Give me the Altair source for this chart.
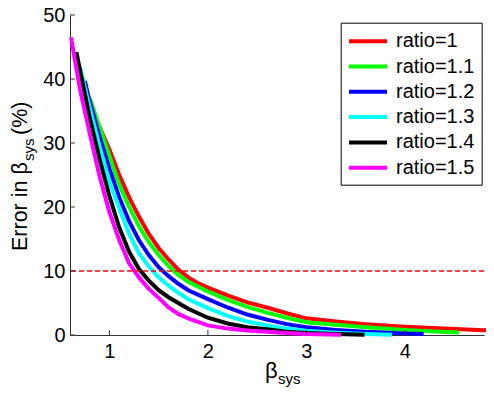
import altair as alt
import pandas as pd

FONT = "Liberation Sans"

ratios = ["ratio=1", "ratio=1.1", "ratio=1.2", "ratio=1.3", "ratio=1.4", "ratio=1.5"]
colors = ["#ff0000", "#00ff00", "#0000ff", "#00ffff", "#000000", "#ff00ff"]

beta_r10 = [0.9, 1.0, 1.1, 1.2, 1.3, 1.4, 1.5, 1.6, 1.7, 1.8, 1.9, 2.0, 2.2, 2.4, 2.6, 2.8, 3.0, 3.3, 3.6, 4.0, 4.4, 4.8, 5.0]
err_r10 = [32.5, 29.0, 25.0, 21.5, 18.5, 15.8, 13.6, 11.8, 10.2, 9.0, 8.1, 7.4, 6.2, 5.1, 4.3, 3.4, 2.6, 2.1, 1.7, 1.3, 1.0, 0.75, 0.65]

beta_r11 = [0.8, 0.9, 1.0, 1.1, 1.2, 1.3, 1.4, 1.5, 1.6, 1.7, 1.8, 2.0, 2.2, 2.4, 2.6, 2.8, 3.0, 3.3, 3.6, 4.0, 4.3, 4.55]
err_r11 = [37.0, 32.5, 28.0, 23.5, 20.0, 17.0, 14.5, 12.5, 10.8, 9.4, 8.3, 6.8, 5.5, 4.4, 3.5, 2.7, 2.0, 1.6, 1.2, 0.8, 0.55, 0.4]

beta_r12 = [0.75, 0.8, 0.9, 1.0, 1.1, 1.2, 1.3, 1.4, 1.5, 1.6, 1.7, 1.8, 2.0, 2.2, 2.4, 2.6, 2.8, 3.0, 3.3, 3.6, 4.0, 4.19]
err_r12 = [39.7, 36.5, 31.0, 26.0, 21.5, 17.8, 14.8, 12.5, 10.6, 9.2, 8.0, 7.0, 5.6, 4.3, 3.2, 2.4, 1.7, 1.2, 0.8, 0.5, 0.25, 0.15]

beta_r13 = [0.7, 0.8, 0.9, 1.0, 1.1, 1.2, 1.3, 1.4, 1.5, 1.6, 1.7, 1.8, 2.0, 2.2, 2.4, 2.6, 2.8, 3.0, 3.3, 3.6, 3.87]
err_r13 = [42.0, 35.5, 29.5, 24.0, 19.8, 15.8, 12.8, 10.7, 9.0, 7.7, 6.6, 5.6, 4.2, 3.0, 2.1, 1.5, 1.0, 0.65, 0.35, 0.15, 0.05]

beta_r14 = [0.665, 0.7, 0.8, 0.9, 1.0, 1.1, 1.2, 1.3, 1.4, 1.5, 1.6, 1.7, 1.8, 2.0, 2.2, 2.4, 2.6, 2.8, 3.0, 3.3, 3.59]
err_r14 = [44.2, 41.5, 34.0, 27.5, 21.7, 16.8, 13.0, 10.3, 8.5, 7.0, 5.9, 5.0, 4.1, 2.7, 1.8, 1.2, 0.9, 0.5, 0.3, 0.15, 0.05]

beta_r15 = [0.61, 0.7, 0.8, 0.9, 1.0, 1.1, 1.2, 1.3, 1.4, 1.5, 1.6, 1.7, 1.8, 2.0, 2.2, 2.4, 2.6, 2.8, 3.0, 3.35]
err_r15 = [46.5, 38.5, 31.5, 24.8, 19.2, 14.8, 11.2, 9.0, 7.2, 5.8, 4.3, 3.3, 2.6, 1.5, 1.0, 0.7, 0.5, 0.3, 0.15, 0.05]

threshold = 10
x_ticks = [1, 2, 3, 4]
y_ticks = [0, 10, 20, 30, 40, 50]

series = [
    (ratios[0], beta_r10, err_r10),
    (ratios[1], beta_r11, err_r11),
    (ratios[2], beta_r12, err_r12),
    (ratios[3], beta_r13, err_r13),
    (ratios[4], beta_r14, err_r14),
    (ratios[5], beta_r15, err_r15),
]

rows = []
for name, bs, es in series:
    for b, e in zip(bs, es):
        rows.append({"ratio": name, "beta": b, "err": e})
df = pd.DataFrame(rows)

W, H = 414, 320
xs = alt.Scale(domain=[0.6, 4.803], zero=False, nice=False)
ys = alt.Scale(domain=[0, 50], zero=False, nice=False)
AX = "#333333"

xaxis = alt.Axis(values=x_ticks, title=None, ticks=False, grid=False, labelFontSize=20,
                 labelFont=FONT, labelColor="black", domainColor=AX, labelPadding=6,
                 labelFlush=False, labelOverlap=False, format="d")
yaxis = alt.Axis(values=y_ticks, title=None, ticks=False, grid=False, labelFontSize=20,
                 labelFont=FONT, labelColor="black", domainColor=AX, labelPadding=5,
                 labelFlush=False, labelOverlap=False, format="d")

legend = alt.Legend(
    title=None, orient="none", legendX=270.7, legendY=7.7, padding=7,
    strokeColor="black", fillColor="white",
    symbolType="M-2,0L2,0", symbolSize=361, symbolStrokeWidth=4,
    symbolOffset=8.8, labelOffset=16.5, rowPadding=3.3,
    labelFontSize=20, labelFont=FONT, labelColor="black",
)
cscale = alt.Scale(domain=ratios, range=colors)

layers = []
for name, _, _ in series:
    layers.append(
        alt.Chart(df).transform_filter(alt.datum.ratio == name)
        .mark_line(strokeWidth=4, clip=False, strokeCap="butt")
        .encode(
            x=alt.X("beta:Q", scale=xs, axis=xaxis),
            y=alt.Y("err:Q", scale=ys, axis=yaxis),
            color=alt.Color("ratio:N", scale=cscale, legend=legend),
            order=alt.Order("beta:Q"),
        )
    )

dash = alt.Chart(pd.DataFrame({"v": [threshold]})).mark_rule(
    color="#ff0000", strokeWidth=1.5, strokeDash=[5, 3]
).encode(y=alt.Y("v:Q", scale=ys, axis=yaxis))

ytk = alt.Chart(pd.DataFrame({"v": y_ticks})).mark_rule(color=AX, strokeWidth=1).encode(
    y=alt.Y("v:Q", scale=ys, axis=yaxis), x=alt.value(0), x2=alt.value(5))
xtk = alt.Chart(pd.DataFrame({"v": x_ticks})).mark_rule(color=AX, strokeWidth=1).encode(
    x=alt.X("v:Q", scale=xs, axis=xaxis), y=alt.value(H), y2=alt.value(H - 5))

one = alt.Data(values=[{"a": 1}])

def txt(s, x, y, size, angle=0):
    return alt.Chart(one).mark_text(
        text=s, font=FONT, fontSize=size, color="black", align="left",
        baseline="alphabetic", angle=angle
    ).encode(x=alt.value(x), y=alt.value(y))

titles = [
    txt("β", 195, 362.5, 22),
    txt("sys", 208, 368.5, 15),
    txt("Error in β", -43, 236, 21.5, 270),
    txt("sys", -36, 146, 15, 270),
    txt(" (%)", -43, 120, 21.5, 270),
]

chart = alt.layer(*layers, dash, ytk, xtk, *titles).properties(
    width=W, height=H,
    padding={"left": 62, "top": 7, "right": 2, "bottom": 52},
    autosize=alt.AutoSizeParams(type="none"),
).configure_view(stroke=None)

chart.save("out.html", embed_options={"renderer": "svg", "actions": False})
